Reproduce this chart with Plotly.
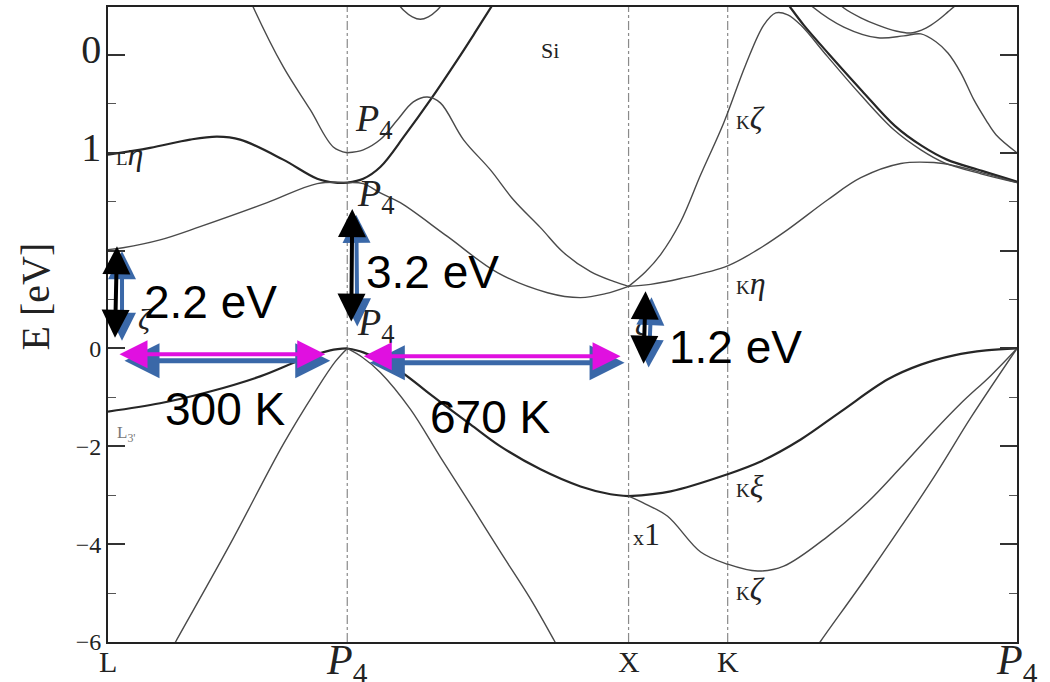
import plotly.graph_objects as go

# ---- high-symmetry points along the k-path (path length, arbitrary units) ----
kpt_pos = [0.0, 2.39, 5.20, 6.19, 9.08]
kpt_names = ["L", "P4", "X", "K", "P4"]

# ---- energy axis ticks ----
e_tickvals = [-6, -4, -2, 0, 2, 4, 6]
e_ticknames = ["−6", "−4", "−2", "0", "", "1", "0"]

# ---- valence bands ----
k_vb1_LP = [0.00, 0.52, 1.02, 1.52, 1.92, 2.22, 2.39]
e_vb1_LP = [-1.29, -1.12, -0.88, -0.57, -0.24, -0.04, 0.00]

k_vb2_LP = [0.57, 0.68, 1.22, 1.75, 2.07, 2.27, 2.39]
e_vb2_LP = [-6.39, -5.98, -4.00, -1.96, -0.88, -0.27, 0.00]

k_vb1_PX = [2.39, 2.55, 2.92, 3.22, 3.62, 3.92, 4.32, 4.72, 5.02, 5.20]
e_vb1_PX = [0.00, -0.08, -0.47, -0.94, -1.55, -2.00, -2.47, -2.82, -2.98, -3.02]

k_vb2_PX = [2.39, 2.54, 2.72, 3.02, 3.32, 3.62, 3.92, 4.22, 4.46, 4.57]
e_vb2_PX = [0.00, -0.18, -0.49, -1.24, -2.22, -3.18, -4.16, -5.12, -5.98, -6.39]

k_vb_xi = [5.20, 5.62, 6.19, 6.52, 6.92, 7.32, 7.79, 8.12, 8.45, 8.77, 9.08]
e_vb_xi = [-3.02, -2.92, -2.57, -2.31, -1.86, -1.29, -0.63, -0.33, -0.14, -0.04, 0.00]

k_vb_x1 = [5.20, 5.37, 5.59, 5.92, 6.19, 6.49, 6.75, 7.19, 7.59, 7.92, 8.25, 8.52, 8.82, 9.08]
e_vb_x1 = [-3.02, -3.18, -3.43, -4.16, -4.41, -4.55, -4.45, -3.84, -3.14, -2.43, -1.69, -1.12, -0.55, 0.00]

k_vb_right = [7.02, 7.12, 7.59, 8.25, 8.62, 9.08]
e_vb_right = [-6.29, -5.98, -4.63, -2.63, -1.41, 0.00]

# ---- conduction bands ----
k_c_eta = [0.00, 0.42, 0.82, 1.09, 1.32, 1.75, 2.09, 2.27, 2.39]
e_c_eta = [3.96, 4.10, 4.27, 4.33, 4.27, 3.86, 3.47, 3.39, 3.39]

k_c_xi = [0.00, 0.15, 0.52, 0.92, 1.59, 2.09, 2.39]
e_c_xi = [2.02, 2.06, 2.22, 2.49, 2.98, 3.37, 3.39]

k_c_rise = [2.39, 2.55, 2.72, 2.97, 3.22, 3.49, 3.67, 3.84]
e_c_rise = [3.39, 3.47, 3.71, 4.37, 5.08, 5.90, 6.47, 7.02]

k_c_fall = [2.39, 2.55, 2.72, 2.92, 3.39, 3.89, 4.39, 4.72, 4.97, 5.20]
e_c_fall = [3.39, 3.37, 3.18, 2.98, 2.29, 1.55, 1.14, 1.04, 1.12, 1.27]

k_c_bowl_L = [1.40, 1.45, 1.75, 2.02, 2.25, 2.39]
e_c_bowl_L = [7.22, 6.98, 5.76, 4.88, 4.12, 4.00]

k_c_bowl_R = [2.39, 2.55, 2.72, 2.89, 3.05, 3.19, 3.32, 3.55, 3.82, 4.05, 4.32, 4.55, 4.82, 5.05, 5.20]
e_c_bowl_R = [4.00, 4.06, 4.27, 4.67, 5.04, 5.14, 5.02, 4.27, 3.65, 3.04, 2.47, 1.96, 1.57, 1.37, 1.27]

k_c_cup = [2.87, 2.95, 3.04, 3.12, 3.20, 3.29, 3.37]
e_c_cup = [7.12, 6.92, 6.78, 6.73, 6.78, 6.92, 7.12]

k_c_zeta = [5.20, 5.37, 5.52, 5.72, 5.92, 6.15, 6.37, 6.55, 6.67, 6.79, 6.92, 7.19, 7.52, 7.85, 8.12, 8.35, 8.72, 9.08]
e_c_zeta = [1.27, 1.57, 1.92, 2.59, 3.55, 4.61, 5.80, 6.61, 6.86, 6.82, 6.61, 5.96, 5.18, 4.47, 4.06, 3.80, 3.57, 3.39]

k_c_pair = [6.75, 6.82, 6.95, 7.20, 7.53, 7.86, 8.13, 8.38, 8.73, 9.08]
e_c_pair = [7.16, 6.96, 6.61, 6.02, 5.27, 4.55, 4.14, 3.86, 3.63, 3.41]

k_c_eta_K = [5.20, 5.42, 5.72, 6.19, 6.49, 6.79, 7.19, 7.52, 7.92, 8.25, 8.47, 8.77, 9.08]
e_c_eta_K = [1.27, 1.31, 1.43, 1.69, 2.02, 2.43, 3.04, 3.49, 3.78, 3.80, 3.73, 3.57, 3.39]

k_c_topA = [6.97, 7.04, 7.35, 7.69, 7.95, 8.12, 8.27, 8.39, 8.52, 8.65, 8.77, 8.87, 9.08]
e_c_topA = [7.12, 6.98, 6.57, 6.35, 6.39, 6.43, 6.27, 6.04, 5.63, 5.08, 4.67, 4.37, 4.00]

k_c_topB = [7.27, 7.35, 7.52, 7.69, 7.87, 8.02, 8.17, 8.29, 8.39, 8.47, 8.52]
e_c_topB = [7.12, 6.96, 6.76, 6.61, 6.49, 6.45, 6.55, 6.71, 6.88, 7.02, 7.12]

# ---- gap / temperature annotations ----
gap_labels = ["2.2 eV", "3.2 eV", "1.2 eV"]
temp_labels = ["300 K", "670 K"]

HEAVY = dict(color="#262626", width=2.2)
LIGHT = dict(color="#4a4a4a", width=1.4)

bands = [
    (k_vb1_LP, e_vb1_LP, HEAVY), (k_vb2_LP, e_vb2_LP, LIGHT),
    (k_vb1_PX, e_vb1_PX, HEAVY), (k_vb2_PX, e_vb2_PX, LIGHT),
    (k_vb_xi, e_vb_xi, HEAVY), (k_vb_x1, e_vb_x1, LIGHT),
    (k_vb_right, e_vb_right, LIGHT),
    (k_c_eta, e_c_eta, HEAVY), (k_c_xi, e_c_xi, LIGHT),
    (k_c_rise, e_c_rise, HEAVY), (k_c_fall, e_c_fall, LIGHT),
    (k_c_bowl_L, e_c_bowl_L, LIGHT), (k_c_bowl_R, e_c_bowl_R, LIGHT),
    (k_c_cup, e_c_cup, LIGHT), (k_c_zeta, e_c_zeta, LIGHT),
    (k_c_pair, e_c_pair, HEAVY), (k_c_eta_K, e_c_eta_K, LIGHT),
    (k_c_topA, e_c_topA, LIGHT), (k_c_topB, e_c_topB, LIGHT),
]

SERIF = "Liberation Serif"
SANS = "Liberation Sans"

fig = go.Figure()

# dash-dot guides at the interior high-symmetry points
for kp in kpt_pos[1:4]:
    fig.add_shape(type="line", xref="x", yref="paper", x0=kp, x1=kp, y0=0, y1=1,
                  line=dict(color="#8a8a8a", width=1.2, dash="dashdot"), layer="below")

for kx, ey, ln in bands:
    fig.add_trace(go.Scatter(x=kx, y=ey, mode="lines", line=dict(shape="spline", smoothing=1.0, **ln),
                             hoverinfo="skip", showlegend=False))


def sized(t, s):
    return f'<span style="font-size:{s}px">{t}</span>'


y_ticktext = []
for v, t in zip(e_tickvals, e_ticknames):
    y_ticktext.append(sized(t, 40) if v > 2 else t)

fig.update_layout(
    width=1050, height=682,
    margin=dict(l=108, r=33, t=7, b=40),
    paper_bgcolor="white", plot_bgcolor="white",
    font=dict(family=SERIF, color="#222"),
    xaxis=dict(range=[0, 9.08], showticklabels=False, ticks="", automargin=False,
               showgrid=False, zeroline=False, showline=True, mirror=True,
               linecolor="#222", linewidth=2),
    yaxis=dict(range=[-6, 6.98], tickvals=e_tickvals, ticktext=y_ticktext, ticks="inside",
               ticklen=17, tickwidth=1.5, tickcolor="#333", showgrid=False, zeroline=False,
               showline=True, mirror="ticks", linecolor="#222", linewidth=2,
               ticklabelstandoff=0, automargin=False,
               minor=dict(ticks="inside", ticklen=8, dtick=1, tickwidth=1.2, tickcolor="#555"),
               tickfont=dict(family=SERIF, size=24, color="#222")),
)

annotations = []

# k-point labels under the axis
for kp, nm in zip(kpt_pos, kpt_names):
    if nm == "P4":
        label, size, yy = "<i>P</i><sub>4</sub>", 42, -0.033
    else:
        label, size, yy = nm, 30, -0.030
    annotations.append(dict(x=kp, y=yy, xref="x", yref="paper", text=label, showarrow=False,
                            xanchor="center", yanchor="middle",
                            font=dict(family=SERIF, size=size, color="#222")))


def txt(x, y, t, size, font=SERIF, xanchor="center", color="#222", **kw):
    annotations.append(dict(x=x, y=y, xref="x", yref="y", text=t, showarrow=False,
                            xanchor=xanchor, yanchor="middle",
                            font=dict(family=font, size=size, color=color), **kw))


# axis title
annotations.append(dict(x=-(108 - 10) / 909, y=(642 - 297) / 635, xref="paper", yref="paper",
                        text="E [eV]", showarrow=False, textangle=-90,
                        font=dict(family=SERIF, size=40, color="#222")))

# band-symmetry labels
txt(0.06, 3.98, sized("L", 19) + "<i>η</i>", 32, xanchor="left")
txt(-0.15, 2.0, "<i>ξ</i>", 32)
txt(0.37, 0.62, "<i>ζ</i>", 30)
txt(2.66, 4.66, "<i>P</i><sub>4</sub>", 38)
txt(2.68, 3.12, "<i>P</i><sub>4</sub>", 38)
txt(2.68, 0.48, "<i>P</i><sub>4</sub>", 38)
txt(4.42, 6.10, "Si", 22)
txt(6.25, 4.71, sized("K", 19) + "<i>ζ</i>", 32, xanchor="left")
txt(6.25, 1.33, sized("K", 19) + "<i>η</i>", 32, xanchor="left")
txt(6.25, -2.82, sized("K", 19) + "<i>ξ</i>", 32, xanchor="left")
txt(5.22, -3.80, sized("x", 22) + "1", 32, xanchor="left")
txt(6.25, -4.92, sized("K", 19) + "<i>ζ</i>", 32, xanchor="left")
txt(0.07, -1.74, "L<sub>3'</sub>", 17, xanchor="left", color="#777")
txt(5.33, 0.50, "<i>ζ</i>", 30)


def dbl_arrow(x0, y0, x1, y1, color, width):
    annotations.append(dict(x=x1, y=y1, ax=x0, ay=y0, xref="x", yref="y", axref="x", ayref="y",
                            text="", showarrow=True, arrowside="end+start",
                            arrowhead=2, startarrowhead=2, arrowsize=1.4, startarrowsize=1.4,
                            arrowwidth=width, arrowcolor=color, standoff=0, startstandoff=0))


BLUE = "#3a68a8"
MAGENTA = "#e010e0"

# vertical gap arrows (blue shadow behind black)
dbl_arrow(0.14, 2.02, 0.14, 0.16, BLUE, 4)
dbl_arrow(0.09, 2.12, 0.07, 0.22, "black", 4)
dbl_arrow(2.48, 2.76, 2.49, 0.45, BLUE, 4)
dbl_arrow(2.44, 2.88, 2.43, 0.55, "black", 4)
dbl_arrow(5.43, 1.08, 5.40, -0.39, BLUE, 4)
dbl_arrow(5.37, 1.20, 5.35, -0.31, "black", 4)
# horizontal arrows
dbl_arrow(0.15, -0.25, 2.22, -0.25, BLUE, 5)
dbl_arrow(0.10, -0.12, 2.17, -0.12, MAGENTA, 4)
dbl_arrow(2.60, -0.29, 5.16, -0.29, BLUE, 5)
dbl_arrow(2.54, -0.16, 5.12, -0.16, MAGENTA, 4)

# gap and temperature texts
txt(1.02, 0.96, gap_labels[0], 46, font=SANS, color="black")
txt(3.24, 1.57, gap_labels[1], 46, font=SANS, color="black")
txt(6.27, 0.02, gap_labels[2], 46, font=SANS, color="black")
txt(1.17, -1.24, temp_labels[0], 46, font=SANS, color="black")
txt(3.82, -1.41, temp_labels[1], 46, font=SANS, color="black")

fig.update_layout(annotations=annotations)

fig.write_html("out.html")
